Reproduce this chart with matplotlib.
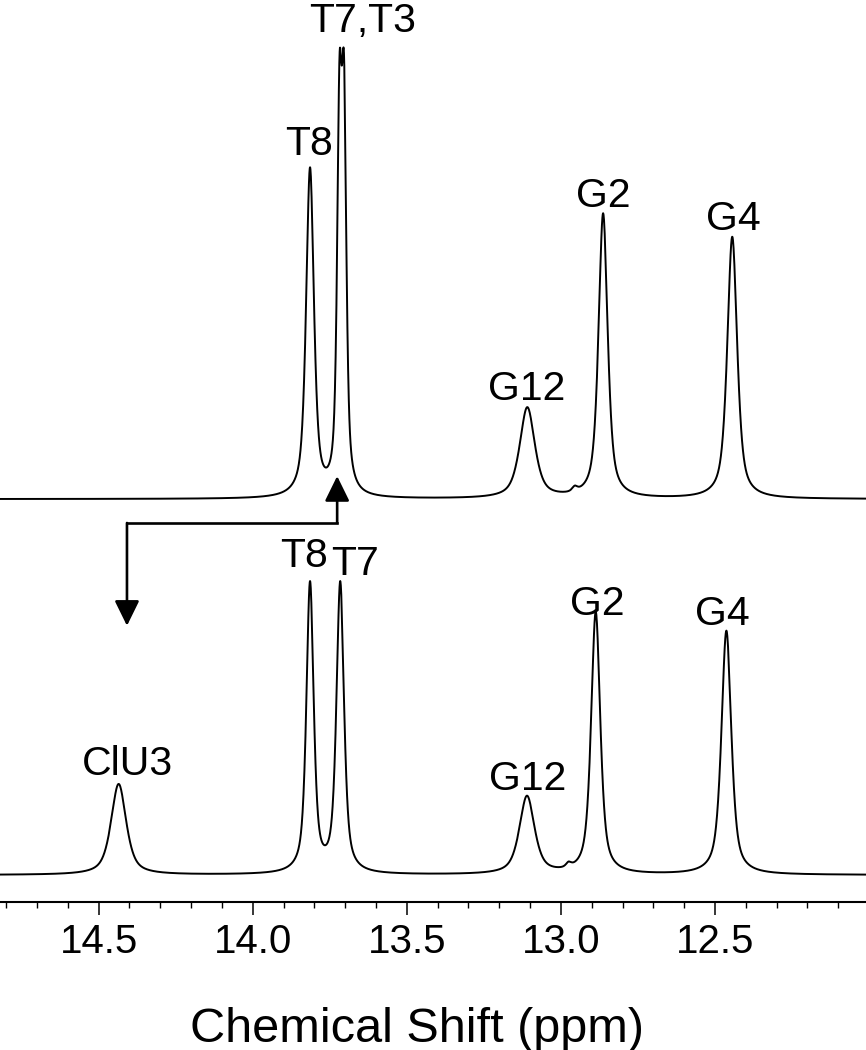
import numpy as np
import matplotlib
matplotlib.use("Agg")
import matplotlib.pyplot as plt

plt.rcParams['font.family'] = ['Liberation Sans', 'DejaVu Sans']

top_pos = [13.814, 13.7185, 13.7035, 13.109, 12.863, 12.444, 12.955]
top_height = [36.8, 49.0, 49.0, 10.2, 31.7, 29.1, 1.5]
top_width = [0.03, 0.018, 0.018, 0.058, 0.035, 0.038, 0.02]
top_base = 44.65

bot_pos = [14.435, 13.814, 13.716, 13.11, 12.887, 12.463, 12.975]
bot_height = [10.1, 32.6, 32.6, 8.8, 29.2, 27.1, 1.5]
bot_width = [0.058, 0.028, 0.029, 0.058, 0.035, 0.038, 0.02]
bot_base = 2.96

# labels: text, x (ppm), baseline y
top_labels = [("T8", 13.817, 82.8), ("T7,T3", 13.645, 96.5), ("G12", 13.11, 55.6),
              ("G2", 12.863, 77.0), ("G4", 12.44, 74.5)]
bot_labels = [("T8", 13.833, 37.1), ("T7", 13.668, 36.2), ("ClU3", 14.407, 14.1),
              ("G12", 13.107, 12.4), ("G2", 12.883, 31.8), ("G4", 12.475, 30.7)]

ppm = np.linspace(11.9, 14.9, 8000)
eta = 0.65  # lorentzian fraction of the line shape


def line(x, x0, w):
    lor = 1.0 / (1.0 + ((x - x0) / (w / 2)) ** 2)
    gau = np.exp(-4 * np.log(2) * (x - x0) ** 2 / w ** 2)
    return eta * lor + (1 - eta) * gau


def spectrum(pos, height, width):
    # solve amplitudes so the summed curve reaches the read heights at each peak
    M = np.array([[line(p, q, w) for q, w in zip(pos, width)] for p in pos])
    amp = np.clip(np.linalg.solve(M, np.array(height)), 0, None)
    y = np.zeros_like(ppm)
    for a, q, w in zip(amp, pos, width):
        y += a * line(ppm, q, w)
    return y


fig = plt.figure(figsize=(8.66, 10.5), dpi=100)
ax = fig.add_axes([0, 1 - 901.7 / 1050, 1, 901.7 / 1050])

ax.plot(ppm, top_base + spectrum(top_pos, top_height, top_width), color='black', lw=1.4)
ax.plot(ppm, bot_base + spectrum(bot_pos, bot_height, bot_width), color='black', lw=1.4)

for txt, x, y in top_labels + bot_labels:
    ax.text(x, y, txt, fontsize=29.5, ha='center', va='baseline')

# arrow linking the two spectra
head = '-|>,head_length=0.55,head_width=0.27'
ax.plot([13.726, 14.408], [42.0, 42.0], color='black', lw=1.9, solid_capstyle='projecting')
ax.annotate('', xy=(13.726, 47.2), xytext=(13.726, 42.0),
            arrowprops=dict(arrowstyle=head, color='black', lw=1.9, mutation_scale=28,
                            shrinkA=0, shrinkB=0))
ax.annotate('', xy=(14.408, 30.6), xytext=(14.408, 42.0),
            arrowprops=dict(arrowstyle=head, color='black', lw=1.9, mutation_scale=28,
                            shrinkA=0, shrinkB=0))

ax.set_xlim(14.82, 12.01)
ax.set_ylim(0, 100)
ax.set_xticks([14.5, 14.0, 13.5, 13.0, 12.5])
ax.set_xticklabels(["14.5", "14.0", "13.5", "13.0", "12.5"])
ax.set_xticks(np.arange(12.1, 14.85, 0.1), minor=True)
ax.set_yticks([])
for s in ['top', 'left', 'right']:
    ax.spines[s].set_visible(False)
ax.spines['bottom'].set_linewidth(1.5)
ax.tick_params(axis='x', which='major', direction='out', length=9, width=1.1,
               labelsize=29, pad=6)
ax.tick_params(axis='x', which='minor', direction='out', length=4, width=1.0)
ax.patch.set_alpha(0)

fig.text(417 / 866, 1 - 1042 / 1050, "Chemical Shift (ppm)", fontsize=35,
         ha='center', va='baseline')

fig.savefig("out.png", dpi=100)
